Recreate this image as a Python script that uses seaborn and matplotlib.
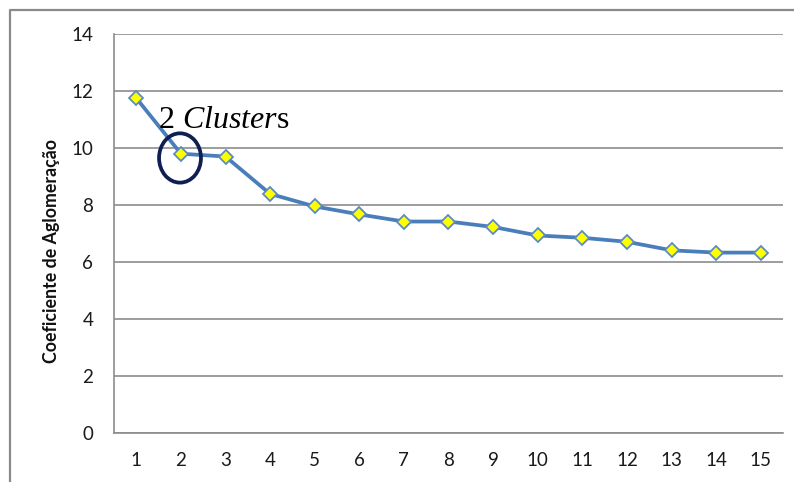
import matplotlib
matplotlib.use("Agg")
import matplotlib.pyplot as plt
from matplotlib.patches import Ellipse
from matplotlib.lines import Line2D
import seaborn as sns
import pandas as pd

# Agglomeration coefficient by number of clusters
clusters = [1, 2, 3, 4, 5, 6, 7, 8, 9, 10, 11, 12, 13, 14, 15]
coeficiente = [11.75, 9.80, 9.70, 8.39, 7.95, 7.67, 7.42, 7.42, 7.23,
               6.93, 6.85, 6.71, 6.41, 6.33, 6.33]
y_ticks = [0, 2, 4, 6, 8, 10, 12, 14]

df = pd.DataFrame({"clusters": clusters, "coef": coeficiente})

sns.set_theme(style="white")
plt.rcParams["font.family"] = ["Lato", "DejaVu Sans"]
plt.rcParams["mathtext.fontset"] = "custom"
plt.rcParams["mathtext.rm"] = "Liberation Serif"
plt.rcParams["mathtext.it"] = "Liberation Serif:italic"

W, H = 794, 482
fig = plt.figure(figsize=(W / 100, H / 100), dpi=100)
fig.patch.set_facecolor("white")
ax = fig.add_axes([114 / W, 1 - 433 / H, 669 / W, 399 / H])

line_blue = "#4a7ebb"
sns.lineplot(data=df, x="clusters", y="coef", ax=ax, color=line_blue,
             linewidth=2.7, marker="D", markersize=7.6,
             markerfacecolor="#ffff00", markeredgecolor="#5b8bc7",
             markeredgewidth=1.3, zorder=3)

ax.set_xlim(0.5, 15.5)
ax.set_ylim(0, 14)
ax.set_xticks(clusters)
ax.set_xticklabels([str(c) for c in clusters])
ax.set_yticks(y_ticks)
ax.set_yticklabels([str(v) for v in y_ticks])
ax.tick_params(axis="both", length=0, labelsize=13.5, colors="#1a1a1a")
ax.tick_params(axis="y", pad=15)
ax.tick_params(axis="x", pad=14)

ax.grid(axis="y", color="#8c8c8c", linewidth=1.2)
ax.grid(axis="x", visible=False)
ax.set_axisbelow(True)
for side in ["top", "right"]:
    ax.spines[side].set_visible(False)
for side in ["left", "bottom"]:
    ax.spines[side].set_color("#8c8c8c")
    ax.spines[side].set_linewidth(1.2)

ax.set_xlabel("")
ax.set_ylabel("Coeficiente de Aglomeração", fontsize=12.8,
              fontweight="bold", color="#111111")
ax.yaxis.set_label_coords(-0.080, 0.456)

# Annotation for the chosen solution
ax.text(1.487, 10.70, r"2 $\mathit{Cluster}$s", fontsize=23,
        family="Liberation Serif", color="black", va="baseline", ha="left",
        zorder=4)
ax.add_patch(Ellipse((1.98, 9.65), width=0.94, height=1.73, fill=False,
                     edgecolor="#0f1f52", linewidth=2.7, zorder=4))

# Outer frame of the chart area
fx = 10 / W
fy = 1 - 10 / H
fig.add_artist(Line2D([fx, fx, 1.0], [0.0, fy, fy], transform=fig.transFigure,
                      color="#8a8a8a", linewidth=1.6))

fig.savefig("out.png", dpi=100, facecolor="white")
